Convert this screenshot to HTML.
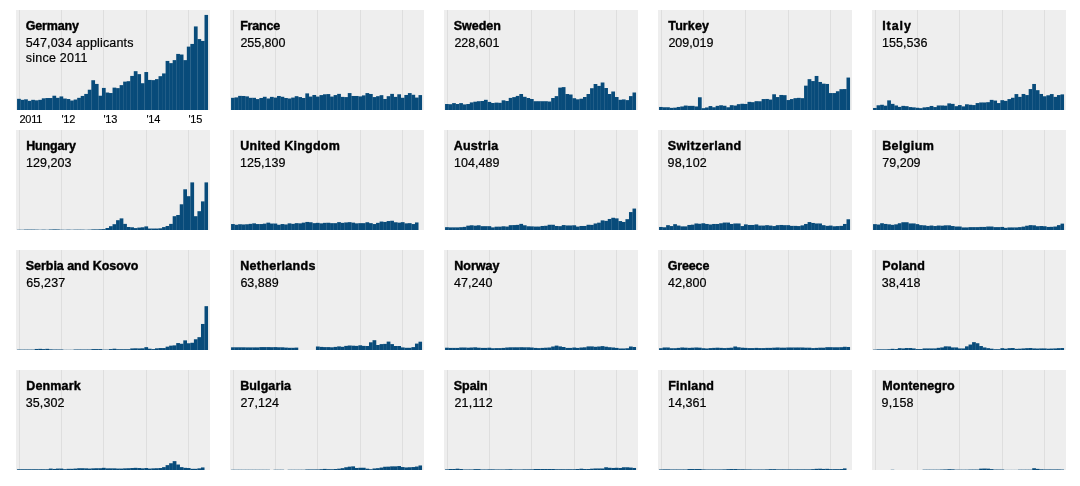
<!DOCTYPE html>
<html lang="en"><head><meta charset="utf-8"><title>Asylum applicants by country</title>
<style>
html,body{margin:0;padding:0;background:#fff}
body{width:1080px;height:486px;overflow:hidden;font-family:"Liberation Sans",Arial,Helvetica,sans-serif}
svg{display:block}
.bg{fill:#eee}
.g{fill:#dedede;shape-rendering:crispEdges}
.b rect{fill:#084b7a}
text{font-family:"Liberation Sans",Arial,Helvetica,sans-serif;fill:#000}
.t{font-size:12.5px;font-weight:bold;stroke:#000;stroke-width:.4px}
.n{font-size:12.5px;stroke:#000;stroke-width:.2px}
.a{font-size:11px;letter-spacing:-0.25px;stroke:#000;stroke-width:.15px}
</style></head><body>
<svg width="1080" height="486" viewBox="0 0 1080 486">

<g transform="translate(16,10)">
<rect class="bg" width="194" height="100"/>
<rect class="g" x="3" y="0" width="1" height="100"/>
<rect class="g" x="45" y="0" width="1" height="100"/>
<rect class="g" x="87" y="0" width="1" height="100"/>
<rect class="g" x="130" y="0" width="1" height="100"/>
<rect class="g" x="172" y="0" width="1" height="100"/>
<g class="b">
<rect x="1.050" y="88.83" width="3.737" height="11.17"/>
<rect x="4.587" y="89.83" width="3.737" height="10.17"/>
<rect x="8.124" y="89.33" width="3.737" height="10.67"/>
<rect x="11.661" y="90.83" width="3.737" height="9.17"/>
<rect x="15.198" y="89.83" width="3.737" height="10.17"/>
<rect x="18.735" y="90.33" width="3.737" height="9.67"/>
<rect x="22.272" y="89.83" width="3.737" height="10.17"/>
<rect x="25.809" y="88.33" width="3.737" height="11.67"/>
<rect x="29.346" y="88.03" width="3.737" height="11.97"/>
<rect x="32.883" y="88.03" width="3.737" height="11.97"/>
<rect x="36.420" y="85.73" width="3.737" height="14.27"/>
<rect x="39.957" y="87.83" width="3.737" height="12.17"/>
<rect x="43.494" y="86.43" width="3.737" height="13.57"/>
<rect x="47.031" y="88.53" width="3.737" height="11.47"/>
<rect x="50.569" y="89.03" width="3.737" height="10.97"/>
<rect x="54.106" y="90.53" width="3.737" height="9.47"/>
<rect x="57.643" y="89.53" width="3.737" height="10.47"/>
<rect x="61.180" y="87.83" width="3.737" height="12.17"/>
<rect x="64.717" y="85.93" width="3.737" height="14.07"/>
<rect x="68.254" y="83.93" width="3.737" height="16.07"/>
<rect x="71.791" y="79.73" width="3.737" height="20.27"/>
<rect x="75.328" y="70.23" width="3.737" height="29.77"/>
<rect x="78.865" y="73.93" width="3.737" height="26.07"/>
<rect x="82.402" y="85.73" width="3.737" height="14.27"/>
<rect x="85.939" y="77.93" width="3.737" height="22.07"/>
<rect x="89.476" y="82.53" width="3.737" height="17.47"/>
<rect x="93.013" y="83.03" width="3.737" height="16.97"/>
<rect x="96.550" y="77.63" width="3.737" height="22.37"/>
<rect x="100.087" y="78.13" width="3.737" height="21.87"/>
<rect x="103.624" y="75.13" width="3.737" height="24.87"/>
<rect x="107.161" y="71.63" width="3.737" height="28.37"/>
<rect x="110.698" y="71.18" width="3.737" height="28.82"/>
<rect x="114.235" y="65.93" width="3.737" height="34.07"/>
<rect x="117.772" y="61.18" width="3.737" height="38.82"/>
<rect x="121.309" y="64.13" width="3.737" height="35.87"/>
<rect x="124.846" y="73.23" width="3.737" height="26.77"/>
<rect x="128.383" y="62.03" width="3.737" height="37.97"/>
<rect x="131.920" y="69.93" width="3.737" height="30.07"/>
<rect x="135.457" y="70.13" width="3.737" height="29.87"/>
<rect x="138.994" y="69.13" width="3.737" height="30.87"/>
<rect x="142.531" y="66.18" width="3.737" height="33.82"/>
<rect x="146.069" y="63.43" width="3.737" height="36.57"/>
<rect x="149.606" y="50.93" width="3.737" height="49.07"/>
<rect x="153.143" y="53.13" width="3.737" height="46.87"/>
<rect x="156.680" y="50.13" width="3.737" height="49.87"/>
<rect x="160.217" y="43.93" width="3.737" height="56.07"/>
<rect x="163.754" y="44.53" width="3.737" height="55.47"/>
<rect x="167.291" y="50.13" width="3.737" height="49.87"/>
<rect x="170.828" y="36.63" width="3.737" height="63.37"/>
<rect x="174.365" y="33.93" width="3.737" height="66.07"/>
<rect x="177.902" y="16.43" width="3.737" height="83.57"/>
<rect x="181.439" y="29.08" width="3.737" height="70.92"/>
<rect x="184.976" y="30.93" width="3.737" height="69.07"/>
<rect x="188.513" y="4.93" width="3.537" height="95.07"/>
</g>
<text class="t" x="9.65" y="19.6" letter-spacing="-0.138">Germany</text>
<text class="n" x="9.65" y="36.7" letter-spacing="0.171">547,034 applicants</text>
<text class="n" x="9.78" y="51.6" letter-spacing="0.233">since 2011</text>
<text class="a" x="3.5" y="112.9">2011</text>
<text class="a" x="45.5" y="112.9">'12</text>
<text class="a" x="87.5" y="112.9">'13</text>
<text class="a" x="130.5" y="112.9">'14</text>
<text class="a" x="172.5" y="112.9">'15</text>
</g>
<g transform="translate(230,10)">
<rect class="bg" width="194" height="100"/>
<rect class="g" x="3" y="0" width="1" height="100"/>
<rect class="g" x="45" y="0" width="1" height="100"/>
<rect class="g" x="87" y="0" width="1" height="100"/>
<rect class="g" x="130" y="0" width="1" height="100"/>
<rect class="g" x="172" y="0" width="1" height="100"/>
<g class="b">
<rect x="1.050" y="87.82" width="3.737" height="12.18"/>
<rect x="4.587" y="87.38" width="3.737" height="12.62"/>
<rect x="8.124" y="85.88" width="3.737" height="14.12"/>
<rect x="11.661" y="85.98" width="3.737" height="14.02"/>
<rect x="15.198" y="86.38" width="3.737" height="13.62"/>
<rect x="18.735" y="87.82" width="3.737" height="12.18"/>
<rect x="22.272" y="87.82" width="3.737" height="12.18"/>
<rect x="25.809" y="89.08" width="3.737" height="10.92"/>
<rect x="29.346" y="87.98" width="3.737" height="12.02"/>
<rect x="32.883" y="86.78" width="3.737" height="13.22"/>
<rect x="36.420" y="88.48" width="3.737" height="11.52"/>
<rect x="39.957" y="86.88" width="3.737" height="13.12"/>
<rect x="43.494" y="87.58" width="3.737" height="12.42"/>
<rect x="47.031" y="85.98" width="3.737" height="14.02"/>
<rect x="50.569" y="86.78" width="3.737" height="13.22"/>
<rect x="54.106" y="87.98" width="3.737" height="12.02"/>
<rect x="57.643" y="88.48" width="3.737" height="11.52"/>
<rect x="61.180" y="87.58" width="3.737" height="12.42"/>
<rect x="64.717" y="86.18" width="3.737" height="13.82"/>
<rect x="68.254" y="87.08" width="3.737" height="12.92"/>
<rect x="71.791" y="87.98" width="3.737" height="12.02"/>
<rect x="75.328" y="83.38" width="3.737" height="16.62"/>
<rect x="78.865" y="86.58" width="3.737" height="13.42"/>
<rect x="82.402" y="84.98" width="3.737" height="15.02"/>
<rect x="85.939" y="86.58" width="3.737" height="13.42"/>
<rect x="89.476" y="85.08" width="3.737" height="14.92"/>
<rect x="93.013" y="84.28" width="3.737" height="15.72"/>
<rect x="96.550" y="84.08" width="3.737" height="15.92"/>
<rect x="100.087" y="86.58" width="3.737" height="13.42"/>
<rect x="103.624" y="85.08" width="3.737" height="14.92"/>
<rect x="107.161" y="83.88" width="3.737" height="16.12"/>
<rect x="110.698" y="86.88" width="3.737" height="13.12"/>
<rect x="114.235" y="87.08" width="3.737" height="12.92"/>
<rect x="117.772" y="83.08" width="3.737" height="16.92"/>
<rect x="121.309" y="85.98" width="3.737" height="14.02"/>
<rect x="124.846" y="85.98" width="3.737" height="14.02"/>
<rect x="128.383" y="86.38" width="3.737" height="13.62"/>
<rect x="131.920" y="85.38" width="3.737" height="14.62"/>
<rect x="135.457" y="83.08" width="3.737" height="16.92"/>
<rect x="138.994" y="83.98" width="3.737" height="16.02"/>
<rect x="142.531" y="87.08" width="3.737" height="12.92"/>
<rect x="146.069" y="86.18" width="3.737" height="13.82"/>
<rect x="149.606" y="85.18" width="3.737" height="14.82"/>
<rect x="153.143" y="88.98" width="3.737" height="11.02"/>
<rect x="156.680" y="86.18" width="3.737" height="13.82"/>
<rect x="160.217" y="83.88" width="3.737" height="16.12"/>
<rect x="163.754" y="86.88" width="3.737" height="13.12"/>
<rect x="167.291" y="84.28" width="3.737" height="15.72"/>
<rect x="170.828" y="87.78" width="3.737" height="12.22"/>
<rect x="174.365" y="84.98" width="3.737" height="15.02"/>
<rect x="177.902" y="83.08" width="3.737" height="16.92"/>
<rect x="181.439" y="84.78" width="3.737" height="15.22"/>
<rect x="184.976" y="87.58" width="3.737" height="12.42"/>
<rect x="188.513" y="85.08" width="3.537" height="14.92"/>
</g>
<text class="t" x="10.18" y="19.6" letter-spacing="-0.205">France</text>
<text class="n" x="10.42" y="36.7" letter-spacing="-0.033">255,800</text>
</g>
<g transform="translate(444,10)">
<rect class="bg" width="194" height="100"/>
<rect class="g" x="3" y="0" width="1" height="100"/>
<rect class="g" x="45" y="0" width="1" height="100"/>
<rect class="g" x="87" y="0" width="1" height="100"/>
<rect class="g" x="130" y="0" width="1" height="100"/>
<rect class="g" x="172" y="0" width="1" height="100"/>
<g class="b">
<rect x="1.050" y="94.01" width="3.737" height="5.99"/>
<rect x="4.587" y="94.21" width="3.737" height="5.79"/>
<rect x="8.124" y="93.11" width="3.737" height="6.89"/>
<rect x="11.661" y="94.01" width="3.737" height="5.99"/>
<rect x="15.198" y="93.11" width="3.737" height="6.89"/>
<rect x="18.735" y="94.41" width="3.737" height="5.59"/>
<rect x="22.272" y="94.01" width="3.737" height="5.99"/>
<rect x="25.809" y="92.41" width="3.737" height="7.59"/>
<rect x="29.346" y="91.71" width="3.737" height="8.29"/>
<rect x="32.883" y="91.21" width="3.737" height="8.79"/>
<rect x="36.420" y="91.01" width="3.737" height="8.99"/>
<rect x="39.957" y="89.81" width="3.737" height="10.19"/>
<rect x="43.494" y="91.91" width="3.737" height="8.09"/>
<rect x="47.031" y="93.01" width="3.737" height="6.99"/>
<rect x="50.569" y="92.61" width="3.737" height="7.39"/>
<rect x="54.106" y="92.81" width="3.737" height="7.19"/>
<rect x="57.643" y="90.31" width="3.737" height="9.69"/>
<rect x="61.180" y="91.01" width="3.737" height="8.99"/>
<rect x="64.717" y="87.91" width="3.737" height="12.09"/>
<rect x="68.254" y="87.11" width="3.737" height="12.89"/>
<rect x="71.791" y="85.91" width="3.737" height="14.09"/>
<rect x="75.328" y="84.01" width="3.737" height="15.99"/>
<rect x="78.865" y="86.81" width="3.737" height="13.19"/>
<rect x="82.402" y="88.01" width="3.737" height="11.99"/>
<rect x="85.939" y="89.01" width="3.737" height="10.99"/>
<rect x="89.476" y="91.21" width="3.737" height="8.79"/>
<rect x="93.013" y="91.21" width="3.737" height="8.79"/>
<rect x="96.550" y="91.21" width="3.737" height="8.79"/>
<rect x="100.087" y="91.21" width="3.737" height="8.79"/>
<rect x="103.624" y="91.51" width="3.737" height="8.49"/>
<rect x="107.161" y="88.01" width="3.737" height="11.99"/>
<rect x="110.698" y="86.11" width="3.737" height="13.89"/>
<rect x="114.235" y="77.61" width="3.737" height="22.39"/>
<rect x="117.772" y="77.11" width="3.737" height="22.89"/>
<rect x="121.309" y="84.01" width="3.737" height="15.99"/>
<rect x="124.846" y="84.51" width="3.737" height="15.49"/>
<rect x="128.383" y="88.21" width="3.737" height="11.79"/>
<rect x="131.920" y="89.31" width="3.737" height="10.69"/>
<rect x="135.457" y="88.71" width="3.737" height="11.29"/>
<rect x="138.994" y="87.01" width="3.737" height="12.99"/>
<rect x="142.531" y="84.01" width="3.737" height="15.99"/>
<rect x="146.069" y="78.21" width="3.737" height="21.79"/>
<rect x="149.606" y="74.01" width="3.737" height="25.99"/>
<rect x="153.143" y="75.91" width="3.737" height="24.09"/>
<rect x="156.680" y="72.51" width="3.737" height="27.49"/>
<rect x="160.217" y="78.01" width="3.737" height="21.99"/>
<rect x="163.754" y="84.01" width="3.737" height="15.99"/>
<rect x="167.291" y="81.51" width="3.737" height="18.49"/>
<rect x="170.828" y="87.01" width="3.737" height="12.99"/>
<rect x="174.365" y="89.81" width="3.737" height="10.19"/>
<rect x="177.902" y="89.41" width="3.737" height="10.59"/>
<rect x="181.439" y="90.11" width="3.737" height="9.89"/>
<rect x="184.976" y="86.11" width="3.737" height="13.89"/>
<rect x="188.513" y="82.51" width="3.537" height="17.49"/>
</g>
<text class="t" x="9.78" y="19.6" letter-spacing="-0.025">Sweden</text>
<text class="n" x="10.42" y="36.7" letter-spacing="-0.013">228,601</text>
</g>
<g transform="translate(658,10)">
<rect class="bg" width="194" height="100"/>
<rect class="g" x="3" y="0" width="1" height="100"/>
<rect class="g" x="45" y="0" width="1" height="100"/>
<rect class="g" x="87" y="0" width="1" height="100"/>
<rect class="g" x="130" y="0" width="1" height="100"/>
<rect class="g" x="172" y="0" width="1" height="100"/>
<g class="b">
<rect x="1.050" y="96.96" width="3.737" height="3.04"/>
<rect x="4.587" y="97.26" width="3.737" height="2.74"/>
<rect x="8.124" y="97.26" width="3.737" height="2.74"/>
<rect x="11.661" y="97.86" width="3.737" height="2.14"/>
<rect x="15.198" y="97.66" width="3.737" height="2.34"/>
<rect x="18.735" y="96.96" width="3.737" height="3.04"/>
<rect x="22.272" y="96.46" width="3.737" height="3.54"/>
<rect x="25.809" y="95.56" width="3.737" height="4.44"/>
<rect x="29.346" y="95.86" width="3.737" height="4.14"/>
<rect x="32.883" y="95.86" width="3.737" height="4.14"/>
<rect x="36.420" y="96.46" width="3.737" height="3.54"/>
<rect x="39.957" y="87.26" width="3.737" height="12.74"/>
<rect x="43.494" y="98.19" width="3.737" height="1.81"/>
<rect x="47.031" y="97.46" width="3.737" height="2.54"/>
<rect x="50.569" y="96.06" width="3.737" height="3.94"/>
<rect x="54.106" y="97.26" width="3.737" height="2.74"/>
<rect x="57.643" y="95.86" width="3.737" height="4.14"/>
<rect x="61.180" y="95.26" width="3.737" height="4.74"/>
<rect x="64.717" y="95.76" width="3.737" height="4.24"/>
<rect x="68.254" y="97.26" width="3.737" height="2.74"/>
<rect x="71.791" y="95.16" width="3.737" height="4.84"/>
<rect x="75.328" y="95.56" width="3.737" height="4.44"/>
<rect x="78.865" y="94.16" width="3.737" height="5.84"/>
<rect x="82.402" y="93.76" width="3.737" height="6.24"/>
<rect x="85.939" y="93.96" width="3.737" height="6.04"/>
<rect x="89.476" y="91.86" width="3.737" height="8.14"/>
<rect x="93.013" y="92.16" width="3.737" height="7.84"/>
<rect x="96.550" y="91.16" width="3.737" height="8.84"/>
<rect x="100.087" y="91.26" width="3.737" height="8.74"/>
<rect x="103.624" y="89.06" width="3.737" height="10.94"/>
<rect x="107.161" y="88.96" width="3.737" height="11.04"/>
<rect x="110.698" y="89.56" width="3.737" height="10.44"/>
<rect x="114.235" y="84.26" width="3.737" height="15.74"/>
<rect x="117.772" y="87.06" width="3.737" height="12.94"/>
<rect x="121.309" y="84.96" width="3.737" height="15.04"/>
<rect x="124.846" y="85.16" width="3.737" height="14.84"/>
<rect x="128.383" y="90.06" width="3.737" height="9.94"/>
<rect x="131.920" y="89.06" width="3.737" height="10.94"/>
<rect x="135.457" y="88.16" width="3.737" height="11.84"/>
<rect x="138.994" y="87.86" width="3.737" height="12.14"/>
<rect x="142.531" y="88.16" width="3.737" height="11.84"/>
<rect x="146.069" y="75.66" width="3.737" height="24.34"/>
<rect x="149.606" y="69.16" width="3.737" height="30.84"/>
<rect x="153.143" y="71.06" width="3.737" height="28.94"/>
<rect x="156.680" y="65.96" width="3.737" height="34.04"/>
<rect x="160.217" y="71.96" width="3.737" height="28.04"/>
<rect x="163.754" y="73.66" width="3.737" height="26.34"/>
<rect x="167.291" y="73.96" width="3.737" height="26.04"/>
<rect x="170.828" y="83.06" width="3.737" height="16.94"/>
<rect x="174.365" y="83.06" width="3.737" height="16.94"/>
<rect x="177.902" y="81.26" width="3.737" height="18.74"/>
<rect x="181.439" y="79.16" width="3.737" height="20.84"/>
<rect x="184.976" y="79.06" width="3.737" height="20.94"/>
<rect x="188.513" y="67.56" width="3.537" height="32.44"/>
</g>
<text class="t" x="10.32" y="19.6" letter-spacing="0.105">Turkey</text>
<text class="n" x="10.42" y="36.7" letter-spacing="-0.033">209,019</text>
</g>
<g transform="translate(872,10)">
<rect class="bg" width="194" height="100"/>
<rect class="g" x="3" y="0" width="1" height="100"/>
<rect class="g" x="45" y="0" width="1" height="100"/>
<rect class="g" x="87" y="0" width="1" height="100"/>
<rect class="g" x="130" y="0" width="1" height="100"/>
<rect class="g" x="172" y="0" width="1" height="100"/>
<g class="b">
<rect x="1.050" y="97.97" width="3.737" height="2.03"/>
<rect x="4.587" y="95.27" width="3.737" height="4.73"/>
<rect x="8.124" y="94.77" width="3.737" height="5.23"/>
<rect x="11.661" y="95.67" width="3.737" height="4.33"/>
<rect x="15.198" y="90.37" width="3.737" height="9.63"/>
<rect x="18.735" y="93.87" width="3.737" height="6.13"/>
<rect x="22.272" y="95.47" width="3.737" height="4.53"/>
<rect x="25.809" y="96.87" width="3.737" height="3.13"/>
<rect x="29.346" y="95.87" width="3.737" height="4.13"/>
<rect x="32.883" y="96.17" width="3.737" height="3.83"/>
<rect x="36.420" y="97.07" width="3.737" height="2.93"/>
<rect x="39.957" y="97.37" width="3.737" height="2.63"/>
<rect x="43.494" y="97.77" width="3.737" height="2.23"/>
<rect x="47.031" y="98.17" width="3.737" height="1.83"/>
<rect x="50.569" y="97.37" width="3.737" height="2.63"/>
<rect x="54.106" y="97.07" width="3.737" height="2.93"/>
<rect x="57.643" y="95.97" width="3.737" height="4.03"/>
<rect x="61.180" y="97.07" width="3.737" height="2.93"/>
<rect x="64.717" y="95.47" width="3.737" height="4.53"/>
<rect x="68.254" y="95.47" width="3.737" height="4.53"/>
<rect x="71.791" y="95.67" width="3.737" height="4.33"/>
<rect x="75.328" y="93.37" width="3.737" height="6.63"/>
<rect x="78.865" y="93.87" width="3.737" height="6.13"/>
<rect x="82.402" y="96.17" width="3.737" height="3.83"/>
<rect x="85.939" y="95.07" width="3.737" height="4.93"/>
<rect x="89.476" y="96.37" width="3.737" height="3.63"/>
<rect x="93.013" y="94.27" width="3.737" height="5.73"/>
<rect x="96.550" y="94.77" width="3.737" height="5.23"/>
<rect x="100.087" y="95.07" width="3.737" height="4.93"/>
<rect x="103.624" y="93.07" width="3.737" height="6.93"/>
<rect x="107.161" y="92.47" width="3.737" height="7.53"/>
<rect x="110.698" y="92.47" width="3.737" height="7.53"/>
<rect x="114.235" y="92.17" width="3.737" height="7.83"/>
<rect x="117.772" y="89.87" width="3.737" height="10.13"/>
<rect x="121.309" y="90.57" width="3.737" height="9.43"/>
<rect x="124.846" y="93.07" width="3.737" height="6.93"/>
<rect x="128.383" y="90.17" width="3.737" height="9.83"/>
<rect x="131.920" y="90.87" width="3.737" height="9.13"/>
<rect x="135.457" y="89.07" width="3.737" height="10.93"/>
<rect x="138.994" y="87.77" width="3.737" height="12.23"/>
<rect x="142.531" y="84.07" width="3.737" height="15.93"/>
<rect x="146.069" y="86.87" width="3.737" height="13.13"/>
<rect x="149.606" y="83.97" width="3.737" height="16.03"/>
<rect x="153.143" y="85.07" width="3.737" height="14.93"/>
<rect x="156.680" y="79.07" width="3.737" height="20.93"/>
<rect x="160.217" y="73.97" width="3.737" height="26.03"/>
<rect x="163.754" y="80.17" width="3.737" height="19.83"/>
<rect x="167.291" y="83.97" width="3.737" height="16.03"/>
<rect x="170.828" y="86.27" width="3.737" height="13.73"/>
<rect x="174.365" y="85.27" width="3.737" height="14.73"/>
<rect x="177.902" y="84.07" width="3.737" height="15.93"/>
<rect x="181.439" y="86.87" width="3.737" height="13.13"/>
<rect x="184.976" y="85.07" width="3.737" height="14.93"/>
<rect x="188.513" y="84.37" width="3.537" height="15.63"/>
</g>
<text class="t" x="10.18" y="19.6" letter-spacing="0.95">Italy</text>
<text class="n" x="10.05" y="36.7" letter-spacing="0.029">155,536</text>
</g>
<g transform="translate(16,130)">
<rect class="bg" width="194" height="100"/>
<rect class="g" x="3" y="0" width="1" height="100"/>
<rect class="g" x="45" y="0" width="1" height="100"/>
<rect class="g" x="87" y="0" width="1" height="100"/>
<rect class="g" x="130" y="0" width="1" height="100"/>
<rect class="g" x="172" y="0" width="1" height="100"/>
<g class="b">
<rect x="1.050" y="99.76" width="3.737" height="0.24"/>
<rect x="4.587" y="99.76" width="3.737" height="0.24"/>
<rect x="8.124" y="99.58" width="3.737" height="0.42"/>
<rect x="11.661" y="99.58" width="3.737" height="0.42"/>
<rect x="15.198" y="99.58" width="3.737" height="0.42"/>
<rect x="18.735" y="99.64" width="3.737" height="0.36"/>
<rect x="22.272" y="99.76" width="3.737" height="0.24"/>
<rect x="25.809" y="99.64" width="3.737" height="0.36"/>
<rect x="29.346" y="99.76" width="3.737" height="0.24"/>
<rect x="32.883" y="99.52" width="3.737" height="0.48"/>
<rect x="36.420" y="99.40" width="3.737" height="0.60"/>
<rect x="39.957" y="99.46" width="3.737" height="0.54"/>
<rect x="43.494" y="99.70" width="3.737" height="0.30"/>
<rect x="47.031" y="99.76" width="3.737" height="0.24"/>
<rect x="50.569" y="99.64" width="3.737" height="0.36"/>
<rect x="54.106" y="99.76" width="3.737" height="0.24"/>
<rect x="57.643" y="99.64" width="3.737" height="0.36"/>
<rect x="61.180" y="99.64" width="3.737" height="0.36"/>
<rect x="64.717" y="99.64" width="3.737" height="0.36"/>
<rect x="68.254" y="99.76" width="3.737" height="0.24"/>
<rect x="71.791" y="99.64" width="3.737" height="0.36"/>
<rect x="75.328" y="99.40" width="3.737" height="0.60"/>
<rect x="78.865" y="99.40" width="3.737" height="0.60"/>
<rect x="82.402" y="99.27" width="3.737" height="0.73"/>
<rect x="85.939" y="99.15" width="3.737" height="0.85"/>
<rect x="89.476" y="97.99" width="3.737" height="2.01"/>
<rect x="93.013" y="96.19" width="3.737" height="3.81"/>
<rect x="96.550" y="94.19" width="3.737" height="5.81"/>
<rect x="100.087" y="90.19" width="3.737" height="9.81"/>
<rect x="103.624" y="88.39" width="3.737" height="11.61"/>
<rect x="107.161" y="93.89" width="3.737" height="6.11"/>
<rect x="110.698" y="96.99" width="3.737" height="3.01"/>
<rect x="114.235" y="97.29" width="3.737" height="2.71"/>
<rect x="117.772" y="98.09" width="3.737" height="1.91"/>
<rect x="121.309" y="97.59" width="3.737" height="2.41"/>
<rect x="124.846" y="97.29" width="3.737" height="2.71"/>
<rect x="128.383" y="96.39" width="3.737" height="3.61"/>
<rect x="131.920" y="98.55" width="3.737" height="1.45"/>
<rect x="135.457" y="98.55" width="3.737" height="1.45"/>
<rect x="138.994" y="98.55" width="3.737" height="1.45"/>
<rect x="142.531" y="98.31" width="3.737" height="1.69"/>
<rect x="146.069" y="97.09" width="3.737" height="2.91"/>
<rect x="149.606" y="95.99" width="3.737" height="4.01"/>
<rect x="153.143" y="93.89" width="3.737" height="6.11"/>
<rect x="156.680" y="86.19" width="3.737" height="13.81"/>
<rect x="160.217" y="84.99" width="3.737" height="15.01"/>
<rect x="163.754" y="74.29" width="3.737" height="25.71"/>
<rect x="167.291" y="59.29" width="3.737" height="40.71"/>
<rect x="170.828" y="66.19" width="3.737" height="33.81"/>
<rect x="174.365" y="52.39" width="3.737" height="47.61"/>
<rect x="177.902" y="86.19" width="3.737" height="13.81"/>
<rect x="181.439" y="81.19" width="3.737" height="18.81"/>
<rect x="184.976" y="71.39" width="3.737" height="28.61"/>
<rect x="188.513" y="52.39" width="3.537" height="47.61"/>
</g>
<text class="t" x="10.18" y="19.6" letter-spacing="-0.158">Hungary</text>
<text class="n" x="10.05" y="36.7" letter-spacing="0.029">129,203</text>
</g>
<g transform="translate(230,130)">
<rect class="bg" width="194" height="100"/>
<rect class="g" x="3" y="0" width="1" height="100"/>
<rect class="g" x="45" y="0" width="1" height="100"/>
<rect class="g" x="87" y="0" width="1" height="100"/>
<rect class="g" x="130" y="0" width="1" height="100"/>
<rect class="g" x="172" y="0" width="1" height="100"/>
<g class="b">
<rect x="1.050" y="94.05" width="3.737" height="5.95"/>
<rect x="4.587" y="94.75" width="3.737" height="5.25"/>
<rect x="8.124" y="94.25" width="3.737" height="5.75"/>
<rect x="11.661" y="94.45" width="3.737" height="5.55"/>
<rect x="15.198" y="94.25" width="3.737" height="5.75"/>
<rect x="18.735" y="93.85" width="3.737" height="6.15"/>
<rect x="22.272" y="93.35" width="3.737" height="6.65"/>
<rect x="25.809" y="94.05" width="3.737" height="5.95"/>
<rect x="29.346" y="94.05" width="3.737" height="5.95"/>
<rect x="32.883" y="93.65" width="3.737" height="6.35"/>
<rect x="36.420" y="92.65" width="3.737" height="7.35"/>
<rect x="39.957" y="93.55" width="3.737" height="6.45"/>
<rect x="43.494" y="93.55" width="3.737" height="6.45"/>
<rect x="47.031" y="94.75" width="3.737" height="5.25"/>
<rect x="50.569" y="94.05" width="3.737" height="5.95"/>
<rect x="54.106" y="94.45" width="3.737" height="5.55"/>
<rect x="57.643" y="93.35" width="3.737" height="6.65"/>
<rect x="61.180" y="93.85" width="3.737" height="6.15"/>
<rect x="64.717" y="93.15" width="3.737" height="6.85"/>
<rect x="68.254" y="93.35" width="3.737" height="6.65"/>
<rect x="71.791" y="92.65" width="3.737" height="7.35"/>
<rect x="75.328" y="91.95" width="3.737" height="8.05"/>
<rect x="78.865" y="92.25" width="3.737" height="7.75"/>
<rect x="82.402" y="93.15" width="3.737" height="6.85"/>
<rect x="85.939" y="92.85" width="3.737" height="7.15"/>
<rect x="89.476" y="93.35" width="3.737" height="6.65"/>
<rect x="93.013" y="92.85" width="3.737" height="7.15"/>
<rect x="96.550" y="92.75" width="3.737" height="7.25"/>
<rect x="100.087" y="93.15" width="3.737" height="6.85"/>
<rect x="103.624" y="93.15" width="3.737" height="6.85"/>
<rect x="107.161" y="92.15" width="3.737" height="7.85"/>
<rect x="110.698" y="92.85" width="3.737" height="7.15"/>
<rect x="114.235" y="92.45" width="3.737" height="7.55"/>
<rect x="117.772" y="92.15" width="3.737" height="7.85"/>
<rect x="121.309" y="92.65" width="3.737" height="7.35"/>
<rect x="124.846" y="93.35" width="3.737" height="6.65"/>
<rect x="128.383" y="93.15" width="3.737" height="6.85"/>
<rect x="131.920" y="93.15" width="3.737" height="6.85"/>
<rect x="135.457" y="92.25" width="3.737" height="7.75"/>
<rect x="138.994" y="93.15" width="3.737" height="6.85"/>
<rect x="142.531" y="94.05" width="3.737" height="5.95"/>
<rect x="146.069" y="92.85" width="3.737" height="7.15"/>
<rect x="149.606" y="91.55" width="3.737" height="8.45"/>
<rect x="153.143" y="91.95" width="3.737" height="8.05"/>
<rect x="156.680" y="91.05" width="3.737" height="8.95"/>
<rect x="160.217" y="90.75" width="3.737" height="9.25"/>
<rect x="163.754" y="92.25" width="3.737" height="7.75"/>
<rect x="167.291" y="92.65" width="3.737" height="7.35"/>
<rect x="170.828" y="92.15" width="3.737" height="7.85"/>
<rect x="174.365" y="93.35" width="3.737" height="6.65"/>
<rect x="177.902" y="93.15" width="3.737" height="6.85"/>
<rect x="181.439" y="94.05" width="3.737" height="5.95"/>
<rect x="184.976" y="92.45" width="3.537" height="7.55"/>
</g>
<text class="t" x="10.3" y="19.6" letter-spacing="0.231">United Kingdom</text>
<text class="n" x="10.05" y="36.7" letter-spacing="0.029">125,139</text>
</g>
<g transform="translate(444,130)">
<rect class="bg" width="194" height="100"/>
<rect class="g" x="3" y="0" width="1" height="100"/>
<rect class="g" x="45" y="0" width="1" height="100"/>
<rect class="g" x="87" y="0" width="1" height="100"/>
<rect class="g" x="130" y="0" width="1" height="100"/>
<rect class="g" x="172" y="0" width="1" height="100"/>
<g class="b">
<rect x="1.050" y="97.17" width="3.737" height="2.83"/>
<rect x="4.587" y="97.37" width="3.737" height="2.63"/>
<rect x="8.124" y="97.37" width="3.737" height="2.63"/>
<rect x="11.661" y="97.37" width="3.737" height="2.63"/>
<rect x="15.198" y="97.17" width="3.737" height="2.83"/>
<rect x="18.735" y="96.87" width="3.737" height="3.13"/>
<rect x="22.272" y="95.67" width="3.737" height="4.33"/>
<rect x="25.809" y="95.27" width="3.737" height="4.73"/>
<rect x="29.346" y="95.67" width="3.737" height="4.33"/>
<rect x="32.883" y="95.27" width="3.737" height="4.73"/>
<rect x="36.420" y="96.17" width="3.737" height="3.83"/>
<rect x="39.957" y="96.17" width="3.737" height="3.83"/>
<rect x="43.494" y="96.17" width="3.737" height="3.83"/>
<rect x="47.031" y="97.37" width="3.737" height="2.63"/>
<rect x="50.569" y="96.67" width="3.737" height="3.33"/>
<rect x="54.106" y="96.67" width="3.737" height="3.33"/>
<rect x="57.643" y="96.27" width="3.737" height="3.73"/>
<rect x="61.180" y="96.57" width="3.737" height="3.43"/>
<rect x="64.717" y="95.17" width="3.737" height="4.83"/>
<rect x="68.254" y="95.07" width="3.737" height="4.93"/>
<rect x="71.791" y="94.87" width="3.737" height="5.13"/>
<rect x="75.328" y="93.87" width="3.737" height="6.13"/>
<rect x="78.865" y="95.27" width="3.737" height="4.73"/>
<rect x="82.402" y="96.27" width="3.737" height="3.73"/>
<rect x="85.939" y="96.37" width="3.737" height="3.63"/>
<rect x="89.476" y="96.57" width="3.737" height="3.43"/>
<rect x="93.013" y="96.57" width="3.737" height="3.43"/>
<rect x="96.550" y="95.97" width="3.737" height="4.03"/>
<rect x="100.087" y="95.77" width="3.737" height="4.23"/>
<rect x="103.624" y="94.77" width="3.737" height="5.23"/>
<rect x="107.161" y="94.77" width="3.737" height="5.23"/>
<rect x="110.698" y="95.97" width="3.737" height="4.03"/>
<rect x="114.235" y="96.17" width="3.737" height="3.83"/>
<rect x="117.772" y="95.07" width="3.737" height="4.93"/>
<rect x="121.309" y="95.47" width="3.737" height="4.53"/>
<rect x="124.846" y="95.47" width="3.737" height="4.53"/>
<rect x="128.383" y="95.27" width="3.737" height="4.73"/>
<rect x="131.920" y="96.57" width="3.737" height="3.43"/>
<rect x="135.457" y="95.97" width="3.737" height="4.03"/>
<rect x="138.994" y="95.97" width="3.737" height="4.03"/>
<rect x="142.531" y="94.77" width="3.737" height="5.23"/>
<rect x="146.069" y="94.87" width="3.737" height="5.13"/>
<rect x="149.606" y="93.47" width="3.737" height="6.53"/>
<rect x="153.143" y="92.67" width="3.737" height="7.33"/>
<rect x="156.680" y="90.37" width="3.737" height="9.63"/>
<rect x="160.217" y="90.87" width="3.737" height="9.13"/>
<rect x="163.754" y="88.97" width="3.737" height="11.03"/>
<rect x="167.291" y="87.77" width="3.737" height="12.23"/>
<rect x="170.828" y="88.37" width="3.737" height="11.63"/>
<rect x="174.365" y="91.07" width="3.737" height="8.93"/>
<rect x="177.902" y="91.97" width="3.737" height="8.03"/>
<rect x="181.439" y="89.17" width="3.737" height="10.83"/>
<rect x="184.976" y="82.07" width="3.737" height="17.93"/>
<rect x="188.513" y="78.57" width="3.537" height="21.43"/>
</g>
<text class="t" x="9.78" y="19.6" letter-spacing="0.208">Austria</text>
<text class="n" x="10.05" y="36.7" letter-spacing="0.029">104,489</text>
</g>
<g transform="translate(658,130)">
<rect class="bg" width="194" height="100"/>
<rect class="g" x="3" y="0" width="1" height="100"/>
<rect class="g" x="45" y="0" width="1" height="100"/>
<rect class="g" x="87" y="0" width="1" height="100"/>
<rect class="g" x="130" y="0" width="1" height="100"/>
<rect class="g" x="172" y="0" width="1" height="100"/>
<g class="b">
<rect x="1.050" y="96.97" width="3.737" height="3.03"/>
<rect x="4.587" y="97.27" width="3.737" height="2.73"/>
<rect x="8.124" y="95.17" width="3.737" height="4.83"/>
<rect x="11.661" y="96.07" width="3.737" height="3.93"/>
<rect x="15.198" y="94.17" width="3.737" height="5.83"/>
<rect x="18.735" y="95.57" width="3.737" height="4.43"/>
<rect x="22.272" y="96.37" width="3.737" height="3.63"/>
<rect x="25.809" y="96.37" width="3.737" height="3.63"/>
<rect x="29.346" y="94.97" width="3.737" height="5.03"/>
<rect x="32.883" y="94.67" width="3.737" height="5.33"/>
<rect x="36.420" y="93.47" width="3.737" height="6.53"/>
<rect x="39.957" y="93.77" width="3.737" height="6.23"/>
<rect x="43.494" y="93.27" width="3.737" height="6.73"/>
<rect x="47.031" y="93.97" width="3.737" height="6.03"/>
<rect x="50.569" y="94.47" width="3.737" height="5.53"/>
<rect x="54.106" y="93.97" width="3.737" height="6.03"/>
<rect x="57.643" y="93.97" width="3.737" height="6.03"/>
<rect x="61.180" y="93.27" width="3.737" height="6.73"/>
<rect x="64.717" y="92.57" width="3.737" height="7.43"/>
<rect x="68.254" y="92.57" width="3.737" height="7.43"/>
<rect x="71.791" y="93.97" width="3.737" height="6.03"/>
<rect x="75.328" y="93.47" width="3.737" height="6.53"/>
<rect x="78.865" y="93.47" width="3.737" height="6.53"/>
<rect x="82.402" y="96.07" width="3.737" height="3.93"/>
<rect x="85.939" y="94.37" width="3.737" height="5.63"/>
<rect x="89.476" y="94.97" width="3.737" height="5.03"/>
<rect x="93.013" y="94.97" width="3.737" height="5.03"/>
<rect x="96.550" y="94.42" width="3.737" height="5.58"/>
<rect x="100.087" y="95.57" width="3.737" height="4.43"/>
<rect x="103.624" y="95.57" width="3.737" height="4.43"/>
<rect x="107.161" y="95.17" width="3.737" height="4.83"/>
<rect x="110.698" y="95.57" width="3.737" height="4.43"/>
<rect x="114.235" y="96.07" width="3.737" height="3.93"/>
<rect x="117.772" y="95.17" width="3.737" height="4.83"/>
<rect x="121.309" y="94.97" width="3.737" height="5.03"/>
<rect x="124.846" y="95.17" width="3.737" height="4.83"/>
<rect x="128.383" y="95.17" width="3.737" height="4.83"/>
<rect x="131.920" y="95.87" width="3.737" height="4.13"/>
<rect x="135.457" y="95.87" width="3.737" height="4.13"/>
<rect x="138.994" y="96.07" width="3.737" height="3.93"/>
<rect x="142.531" y="95.37" width="3.737" height="4.63"/>
<rect x="146.069" y="93.97" width="3.737" height="6.03"/>
<rect x="149.606" y="92.07" width="3.737" height="7.93"/>
<rect x="153.143" y="92.97" width="3.737" height="7.03"/>
<rect x="156.680" y="93.47" width="3.737" height="6.53"/>
<rect x="160.217" y="93.47" width="3.737" height="6.53"/>
<rect x="163.754" y="95.17" width="3.737" height="4.83"/>
<rect x="167.291" y="95.87" width="3.737" height="4.13"/>
<rect x="170.828" y="95.57" width="3.737" height="4.43"/>
<rect x="174.365" y="96.27" width="3.737" height="3.73"/>
<rect x="177.902" y="96.07" width="3.737" height="3.93"/>
<rect x="181.439" y="95.87" width="3.737" height="4.13"/>
<rect x="184.976" y="93.97" width="3.737" height="6.03"/>
<rect x="188.513" y="89.27" width="3.537" height="10.73"/>
</g>
<text class="t" x="9.78" y="19.6" letter-spacing="0.385">Switzerland</text>
<text class="n" x="9.52" y="36.7" letter-spacing="0.2">98,102</text>
</g>
<g transform="translate(872,130)">
<rect class="bg" width="194" height="100"/>
<rect class="g" x="3" y="0" width="1" height="100"/>
<rect class="g" x="45" y="0" width="1" height="100"/>
<rect class="g" x="87" y="0" width="1" height="100"/>
<rect class="g" x="130" y="0" width="1" height="100"/>
<rect class="g" x="172" y="0" width="1" height="100"/>
<g class="b">
<rect x="1.050" y="94.13" width="3.737" height="5.87"/>
<rect x="4.587" y="94.53" width="3.737" height="5.47"/>
<rect x="8.124" y="93.23" width="3.737" height="6.77"/>
<rect x="11.661" y="93.93" width="3.737" height="6.07"/>
<rect x="15.198" y="94.33" width="3.737" height="5.67"/>
<rect x="18.735" y="94.83" width="3.737" height="5.17"/>
<rect x="22.272" y="94.33" width="3.737" height="5.67"/>
<rect x="25.809" y="93.23" width="3.737" height="6.77"/>
<rect x="29.346" y="92.23" width="3.737" height="7.77"/>
<rect x="32.883" y="92.23" width="3.737" height="7.77"/>
<rect x="36.420" y="93.43" width="3.737" height="6.57"/>
<rect x="39.957" y="93.43" width="3.737" height="6.57"/>
<rect x="43.494" y="94.13" width="3.737" height="5.87"/>
<rect x="47.031" y="95.13" width="3.737" height="4.87"/>
<rect x="50.569" y="95.33" width="3.737" height="4.67"/>
<rect x="54.106" y="95.93" width="3.737" height="4.07"/>
<rect x="57.643" y="95.53" width="3.737" height="4.47"/>
<rect x="61.180" y="96.03" width="3.737" height="3.97"/>
<rect x="64.717" y="95.53" width="3.737" height="4.47"/>
<rect x="68.254" y="95.73" width="3.737" height="4.27"/>
<rect x="71.791" y="95.33" width="3.737" height="4.67"/>
<rect x="75.328" y="95.33" width="3.737" height="4.67"/>
<rect x="78.865" y="96.03" width="3.737" height="3.97"/>
<rect x="82.402" y="96.53" width="3.737" height="3.47"/>
<rect x="85.939" y="96.53" width="3.737" height="3.47"/>
<rect x="89.476" y="97.43" width="3.737" height="2.57"/>
<rect x="93.013" y="97.43" width="3.737" height="2.57"/>
<rect x="96.550" y="97.13" width="3.737" height="2.87"/>
<rect x="100.087" y="97.13" width="3.737" height="2.87"/>
<rect x="103.624" y="97.13" width="3.737" height="2.87"/>
<rect x="107.161" y="96.93" width="3.737" height="3.07"/>
<rect x="110.698" y="96.93" width="3.737" height="3.07"/>
<rect x="114.235" y="96.53" width="3.737" height="3.47"/>
<rect x="117.772" y="96.53" width="3.737" height="3.47"/>
<rect x="121.309" y="97.13" width="3.737" height="2.87"/>
<rect x="124.846" y="97.13" width="3.737" height="2.87"/>
<rect x="128.383" y="96.93" width="3.737" height="3.07"/>
<rect x="131.920" y="97.83" width="3.737" height="2.17"/>
<rect x="135.457" y="97.43" width="3.737" height="2.57"/>
<rect x="138.994" y="97.43" width="3.737" height="2.57"/>
<rect x="142.531" y="97.43" width="3.737" height="2.57"/>
<rect x="146.069" y="97.13" width="3.737" height="2.87"/>
<rect x="149.606" y="96.63" width="3.737" height="3.37"/>
<rect x="153.143" y="95.73" width="3.737" height="4.27"/>
<rect x="156.680" y="95.13" width="3.737" height="4.87"/>
<rect x="160.217" y="95.33" width="3.737" height="4.67"/>
<rect x="163.754" y="96.23" width="3.737" height="3.77"/>
<rect x="167.291" y="96.03" width="3.737" height="3.97"/>
<rect x="170.828" y="96.23" width="3.737" height="3.77"/>
<rect x="174.365" y="96.93" width="3.737" height="3.07"/>
<rect x="177.902" y="96.83" width="3.737" height="3.17"/>
<rect x="181.439" y="96.53" width="3.737" height="3.47"/>
<rect x="184.976" y="95.13" width="3.737" height="4.87"/>
<rect x="188.513" y="93.63" width="3.537" height="6.37"/>
</g>
<text class="t" x="10.18" y="19.6" letter-spacing="0.396">Belgium</text>
<text class="n" x="10.22" y="36.7" letter-spacing="0.02">79,209</text>
</g>
<g transform="translate(16,250)">
<rect class="bg" width="194" height="100"/>
<rect class="g" x="3" y="0" width="1" height="100"/>
<rect class="g" x="45" y="0" width="1" height="100"/>
<rect class="g" x="87" y="0" width="1" height="100"/>
<rect class="g" x="130" y="0" width="1" height="100"/>
<rect class="g" x="172" y="0" width="1" height="100"/>
<g class="b">
<rect x="1.050" y="99.61" width="3.737" height="0.39"/>
<rect x="4.587" y="99.61" width="3.737" height="0.39"/>
<rect x="8.124" y="99.61" width="3.737" height="0.39"/>
<rect x="11.661" y="99.61" width="3.737" height="0.39"/>
<rect x="15.198" y="99.61" width="3.737" height="0.39"/>
<rect x="18.735" y="98.97" width="3.737" height="1.03"/>
<rect x="22.272" y="98.84" width="3.737" height="1.16"/>
<rect x="25.809" y="99.09" width="3.737" height="0.91"/>
<rect x="29.346" y="98.84" width="3.737" height="1.16"/>
<rect x="32.883" y="99.35" width="3.737" height="0.65"/>
<rect x="36.420" y="99.48" width="3.737" height="0.52"/>
<rect x="39.957" y="99.48" width="3.737" height="0.52"/>
<rect x="43.494" y="99.48" width="3.737" height="0.52"/>
<rect x="47.031" y="99.81" width="3.737" height="0.19"/>
<rect x="50.569" y="99.81" width="3.737" height="0.19"/>
<rect x="54.106" y="99.81" width="3.737" height="0.19"/>
<rect x="57.643" y="99.48" width="3.737" height="0.52"/>
<rect x="61.180" y="99.48" width="3.737" height="0.52"/>
<rect x="64.717" y="99.48" width="3.737" height="0.52"/>
<rect x="68.254" y="99.48" width="3.737" height="0.52"/>
<rect x="71.791" y="99.48" width="3.737" height="0.52"/>
<rect x="75.328" y="99.09" width="3.737" height="0.91"/>
<rect x="78.865" y="99.09" width="3.737" height="0.91"/>
<rect x="82.402" y="99.09" width="3.737" height="0.91"/>
<rect x="85.939" y="99.61" width="3.737" height="0.39"/>
<rect x="89.476" y="99.61" width="3.737" height="0.39"/>
<rect x="93.013" y="99.09" width="3.737" height="0.91"/>
<rect x="96.550" y="98.71" width="3.737" height="1.29"/>
<rect x="100.087" y="99.22" width="3.737" height="0.78"/>
<rect x="103.624" y="99.22" width="3.737" height="0.78"/>
<rect x="107.161" y="99.22" width="3.737" height="0.78"/>
<rect x="110.698" y="99.22" width="3.737" height="0.78"/>
<rect x="114.235" y="98.45" width="3.737" height="1.55"/>
<rect x="117.772" y="98.32" width="3.737" height="1.68"/>
<rect x="121.309" y="98.45" width="3.737" height="1.55"/>
<rect x="124.846" y="98.32" width="3.737" height="1.68"/>
<rect x="128.383" y="97.16" width="3.737" height="2.84"/>
<rect x="131.920" y="98.71" width="3.737" height="1.29"/>
<rect x="135.457" y="99.09" width="3.737" height="0.91"/>
<rect x="138.994" y="98.32" width="3.737" height="1.68"/>
<rect x="142.531" y="98.06" width="3.737" height="1.94"/>
<rect x="146.069" y="98.06" width="3.737" height="1.94"/>
<rect x="149.606" y="96.66" width="3.737" height="3.34"/>
<rect x="153.143" y="95.66" width="3.737" height="4.34"/>
<rect x="156.680" y="95.36" width="3.737" height="4.64"/>
<rect x="160.217" y="93.06" width="3.737" height="6.94"/>
<rect x="163.754" y="93.76" width="3.737" height="6.24"/>
<rect x="167.291" y="90.36" width="3.737" height="9.64"/>
<rect x="170.828" y="93.26" width="3.737" height="6.74"/>
<rect x="174.365" y="92.76" width="3.737" height="7.24"/>
<rect x="177.902" y="89.26" width="3.737" height="10.74"/>
<rect x="181.439" y="87.16" width="3.737" height="12.84"/>
<rect x="184.976" y="73.96" width="3.737" height="26.04"/>
<rect x="188.513" y="56.16" width="3.537" height="43.84"/>
</g>
<text class="t" x="9.78" y="19.6" letter-spacing="-0.036">Serbia and Kosovo</text>
<text class="n" x="10.22" y="36.7" letter-spacing="0.16">65,237</text>
</g>
<g transform="translate(230,250)">
<rect class="bg" width="194" height="100"/>
<rect class="g" x="3" y="0" width="1" height="100"/>
<rect class="g" x="45" y="0" width="1" height="100"/>
<rect class="g" x="87" y="0" width="1" height="100"/>
<rect class="g" x="130" y="0" width="1" height="100"/>
<rect class="g" x="172" y="0" width="1" height="100"/>
<g class="b">
<rect x="1.050" y="97.30" width="3.737" height="2.70"/>
<rect x="4.587" y="97.30" width="3.737" height="2.70"/>
<rect x="8.124" y="97.30" width="3.737" height="2.70"/>
<rect x="11.661" y="97.30" width="3.737" height="2.70"/>
<rect x="15.198" y="97.40" width="3.737" height="2.60"/>
<rect x="18.735" y="97.40" width="3.737" height="2.60"/>
<rect x="22.272" y="97.40" width="3.737" height="2.60"/>
<rect x="25.809" y="97.40" width="3.737" height="2.60"/>
<rect x="29.346" y="97.10" width="3.737" height="2.90"/>
<rect x="32.883" y="97.10" width="3.737" height="2.90"/>
<rect x="36.420" y="97.10" width="3.737" height="2.90"/>
<rect x="39.957" y="97.20" width="3.737" height="2.80"/>
<rect x="43.494" y="97.10" width="3.737" height="2.90"/>
<rect x="47.031" y="97.30" width="3.737" height="2.70"/>
<rect x="50.569" y="97.30" width="3.737" height="2.70"/>
<rect x="54.106" y="97.60" width="3.737" height="2.40"/>
<rect x="57.643" y="97.80" width="3.737" height="2.20"/>
<rect x="61.180" y="97.80" width="3.737" height="2.20"/>
<rect x="64.717" y="97.60" width="3.537" height="2.40"/>
<rect x="85.939" y="96.50" width="3.737" height="3.50"/>
<rect x="89.476" y="96.90" width="3.737" height="3.10"/>
<rect x="93.013" y="97.10" width="3.737" height="2.90"/>
<rect x="96.550" y="97.10" width="3.737" height="2.90"/>
<rect x="100.087" y="97.30" width="3.737" height="2.70"/>
<rect x="103.624" y="96.90" width="3.737" height="3.10"/>
<rect x="107.161" y="96.40" width="3.737" height="3.60"/>
<rect x="110.698" y="96.80" width="3.737" height="3.20"/>
<rect x="114.235" y="95.90" width="3.737" height="4.10"/>
<rect x="117.772" y="95.50" width="3.737" height="4.50"/>
<rect x="121.309" y="95.70" width="3.737" height="4.30"/>
<rect x="124.846" y="95.90" width="3.737" height="4.10"/>
<rect x="128.383" y="95.30" width="3.737" height="4.70"/>
<rect x="131.920" y="95.90" width="3.737" height="4.10"/>
<rect x="135.457" y="96.00" width="3.737" height="4.00"/>
<rect x="138.994" y="92.30" width="3.737" height="7.70"/>
<rect x="142.531" y="90.20" width="3.737" height="9.80"/>
<rect x="146.069" y="95.00" width="3.737" height="5.00"/>
<rect x="149.606" y="94.10" width="3.737" height="5.90"/>
<rect x="153.143" y="93.90" width="3.737" height="6.10"/>
<rect x="156.680" y="91.60" width="3.737" height="8.40"/>
<rect x="160.217" y="94.10" width="3.737" height="5.90"/>
<rect x="163.754" y="96.00" width="3.737" height="4.00"/>
<rect x="167.291" y="96.00" width="3.737" height="4.00"/>
<rect x="170.828" y="97.40" width="3.737" height="2.60"/>
<rect x="174.365" y="97.80" width="3.737" height="2.20"/>
<rect x="177.902" y="97.80" width="3.737" height="2.20"/>
<rect x="181.439" y="97.10" width="3.737" height="2.90"/>
<rect x="184.976" y="93.60" width="3.737" height="6.40"/>
<rect x="188.513" y="91.70" width="3.537" height="8.30"/>
</g>
<text class="t" x="10.18" y="19.6" letter-spacing="0.303">Netherlands</text>
<text class="n" x="10.42" y="36.7" letter-spacing="0.0">63,889</text>
</g>
<g transform="translate(444,250)">
<rect class="bg" width="194" height="100"/>
<rect class="g" x="3" y="0" width="1" height="100"/>
<rect class="g" x="45" y="0" width="1" height="100"/>
<rect class="g" x="87" y="0" width="1" height="100"/>
<rect class="g" x="130" y="0" width="1" height="100"/>
<rect class="g" x="172" y="0" width="1" height="100"/>
<g class="b">
<rect x="1.050" y="97.71" width="3.737" height="2.29"/>
<rect x="4.587" y="97.91" width="3.737" height="2.09"/>
<rect x="8.124" y="97.91" width="3.737" height="2.09"/>
<rect x="11.661" y="97.91" width="3.737" height="2.09"/>
<rect x="15.198" y="97.51" width="3.737" height="2.49"/>
<rect x="18.735" y="97.51" width="3.737" height="2.49"/>
<rect x="22.272" y="97.71" width="3.737" height="2.29"/>
<rect x="25.809" y="97.51" width="3.737" height="2.49"/>
<rect x="29.346" y="97.31" width="3.737" height="2.69"/>
<rect x="32.883" y="97.71" width="3.737" height="2.29"/>
<rect x="36.420" y="97.91" width="3.737" height="2.09"/>
<rect x="39.957" y="97.91" width="3.737" height="2.09"/>
<rect x="43.494" y="97.71" width="3.737" height="2.29"/>
<rect x="47.031" y="98.24" width="3.737" height="1.76"/>
<rect x="50.569" y="98.11" width="3.737" height="1.89"/>
<rect x="54.106" y="98.11" width="3.737" height="1.89"/>
<rect x="57.643" y="97.91" width="3.737" height="2.09"/>
<rect x="61.180" y="97.51" width="3.737" height="2.49"/>
<rect x="64.717" y="97.31" width="3.737" height="2.69"/>
<rect x="68.254" y="97.31" width="3.737" height="2.69"/>
<rect x="71.791" y="97.31" width="3.737" height="2.69"/>
<rect x="75.328" y="97.21" width="3.737" height="2.79"/>
<rect x="78.865" y="97.31" width="3.737" height="2.69"/>
<rect x="82.402" y="97.31" width="3.737" height="2.69"/>
<rect x="85.939" y="97.51" width="3.737" height="2.49"/>
<rect x="89.476" y="97.91" width="3.737" height="2.09"/>
<rect x="93.013" y="98.11" width="3.737" height="1.89"/>
<rect x="96.550" y="97.91" width="3.737" height="2.09"/>
<rect x="100.087" y="97.71" width="3.737" height="2.29"/>
<rect x="103.624" y="97.51" width="3.737" height="2.49"/>
<rect x="107.161" y="96.51" width="3.737" height="3.49"/>
<rect x="110.698" y="95.61" width="3.737" height="4.39"/>
<rect x="114.235" y="96.41" width="3.737" height="3.59"/>
<rect x="117.772" y="97.01" width="3.737" height="2.99"/>
<rect x="121.309" y="97.91" width="3.737" height="2.09"/>
<rect x="124.846" y="97.91" width="3.737" height="2.09"/>
<rect x="128.383" y="97.51" width="3.737" height="2.49"/>
<rect x="131.920" y="97.91" width="3.737" height="2.09"/>
<rect x="135.457" y="97.51" width="3.737" height="2.49"/>
<rect x="138.994" y="97.31" width="3.737" height="2.69"/>
<rect x="142.531" y="96.41" width="3.737" height="3.59"/>
<rect x="146.069" y="96.41" width="3.737" height="3.59"/>
<rect x="149.606" y="96.81" width="3.737" height="3.19"/>
<rect x="153.143" y="96.51" width="3.737" height="3.49"/>
<rect x="156.680" y="96.11" width="3.737" height="3.89"/>
<rect x="160.217" y="96.71" width="3.737" height="3.29"/>
<rect x="163.754" y="97.21" width="3.737" height="2.79"/>
<rect x="167.291" y="97.51" width="3.737" height="2.49"/>
<rect x="170.828" y="97.91" width="3.737" height="2.09"/>
<rect x="174.365" y="98.49" width="3.737" height="1.51"/>
<rect x="177.902" y="98.49" width="3.737" height="1.51"/>
<rect x="181.439" y="98.24" width="3.737" height="1.76"/>
<rect x="184.976" y="96.51" width="3.737" height="3.49"/>
<rect x="188.513" y="97.01" width="3.537" height="2.99"/>
</g>
<text class="t" x="10.18" y="19.6" letter-spacing="0.035">Norway</text>
<text class="n" x="9.9" y="36.7" letter-spacing="0.06">47,240</text>
</g>
<g transform="translate(658,250)">
<rect class="bg" width="194" height="100"/>
<rect class="g" x="3" y="0" width="1" height="100"/>
<rect class="g" x="45" y="0" width="1" height="100"/>
<rect class="g" x="87" y="0" width="1" height="100"/>
<rect class="g" x="130" y="0" width="1" height="100"/>
<rect class="g" x="172" y="0" width="1" height="100"/>
<g class="b">
<rect x="1.050" y="98.22" width="3.737" height="1.78"/>
<rect x="4.587" y="97.49" width="3.737" height="2.51"/>
<rect x="8.124" y="97.49" width="3.737" height="2.51"/>
<rect x="11.661" y="98.22" width="3.737" height="1.78"/>
<rect x="15.198" y="98.22" width="3.737" height="1.78"/>
<rect x="18.735" y="97.89" width="3.737" height="2.11"/>
<rect x="22.272" y="97.49" width="3.737" height="2.51"/>
<rect x="25.809" y="97.69" width="3.737" height="2.31"/>
<rect x="29.346" y="97.89" width="3.737" height="2.11"/>
<rect x="32.883" y="97.69" width="3.737" height="2.31"/>
<rect x="36.420" y="97.49" width="3.737" height="2.51"/>
<rect x="39.957" y="97.69" width="3.737" height="2.31"/>
<rect x="43.494" y="98.22" width="3.737" height="1.78"/>
<rect x="47.031" y="98.47" width="3.737" height="1.53"/>
<rect x="50.569" y="98.09" width="3.737" height="1.91"/>
<rect x="54.106" y="97.89" width="3.737" height="2.11"/>
<rect x="57.643" y="97.69" width="3.737" height="2.31"/>
<rect x="61.180" y="97.89" width="3.737" height="2.11"/>
<rect x="64.717" y="98.09" width="3.737" height="1.91"/>
<rect x="68.254" y="97.89" width="3.737" height="2.11"/>
<rect x="71.791" y="97.69" width="3.737" height="2.31"/>
<rect x="75.328" y="96.49" width="3.737" height="3.51"/>
<rect x="78.865" y="97.29" width="3.737" height="2.71"/>
<rect x="82.402" y="97.69" width="3.737" height="2.31"/>
<rect x="85.939" y="97.89" width="3.737" height="2.11"/>
<rect x="89.476" y="98.09" width="3.737" height="1.91"/>
<rect x="93.013" y="98.09" width="3.737" height="1.91"/>
<rect x="96.550" y="97.89" width="3.737" height="2.11"/>
<rect x="100.087" y="98.09" width="3.737" height="1.91"/>
<rect x="103.624" y="98.09" width="3.737" height="1.91"/>
<rect x="107.161" y="97.89" width="3.737" height="2.11"/>
<rect x="110.698" y="97.89" width="3.737" height="2.11"/>
<rect x="114.235" y="97.69" width="3.737" height="2.31"/>
<rect x="117.772" y="97.49" width="3.737" height="2.51"/>
<rect x="121.309" y="97.69" width="3.737" height="2.31"/>
<rect x="124.846" y="97.69" width="3.737" height="2.31"/>
<rect x="128.383" y="97.49" width="3.737" height="2.51"/>
<rect x="131.920" y="97.49" width="3.737" height="2.51"/>
<rect x="135.457" y="97.49" width="3.737" height="2.51"/>
<rect x="138.994" y="97.49" width="3.737" height="2.51"/>
<rect x="142.531" y="97.49" width="3.737" height="2.51"/>
<rect x="146.069" y="97.69" width="3.737" height="2.31"/>
<rect x="149.606" y="97.69" width="3.737" height="2.31"/>
<rect x="153.143" y="98.09" width="3.737" height="1.91"/>
<rect x="156.680" y="97.89" width="3.737" height="2.11"/>
<rect x="160.217" y="97.69" width="3.737" height="2.31"/>
<rect x="163.754" y="97.69" width="3.737" height="2.31"/>
<rect x="167.291" y="97.19" width="3.737" height="2.81"/>
<rect x="170.828" y="97.19" width="3.737" height="2.81"/>
<rect x="174.365" y="97.29" width="3.737" height="2.71"/>
<rect x="177.902" y="97.29" width="3.737" height="2.71"/>
<rect x="181.439" y="97.19" width="3.737" height="2.81"/>
<rect x="184.976" y="96.79" width="3.737" height="3.21"/>
<rect x="188.513" y="96.99" width="3.537" height="3.01"/>
</g>
<text class="t" x="9.65" y="19.6" letter-spacing="-0.14">Greece</text>
<text class="n" x="9.9" y="36.7" letter-spacing="0.06">42,800</text>
</g>
<g transform="translate(872,250)">
<rect class="bg" width="194" height="100"/>
<rect class="g" x="3" y="0" width="1" height="100"/>
<rect class="g" x="45" y="0" width="1" height="100"/>
<rect class="g" x="87" y="0" width="1" height="100"/>
<rect class="g" x="130" y="0" width="1" height="100"/>
<rect class="g" x="172" y="0" width="1" height="100"/>
<g class="b">
<rect x="1.050" y="99.61" width="3.737" height="0.39"/>
<rect x="4.587" y="99.35" width="3.737" height="0.65"/>
<rect x="8.124" y="99.35" width="3.737" height="0.65"/>
<rect x="11.661" y="99.35" width="3.737" height="0.65"/>
<rect x="15.198" y="99.21" width="3.737" height="0.79"/>
<rect x="18.735" y="98.82" width="3.737" height="1.18"/>
<rect x="22.272" y="99.08" width="3.737" height="0.92"/>
<rect x="25.809" y="98.17" width="3.737" height="1.83"/>
<rect x="29.346" y="98.43" width="3.737" height="1.57"/>
<rect x="32.883" y="98.04" width="3.737" height="1.96"/>
<rect x="36.420" y="98.04" width="3.737" height="1.96"/>
<rect x="39.957" y="98.43" width="3.737" height="1.57"/>
<rect x="43.494" y="99.08" width="3.737" height="0.92"/>
<rect x="47.031" y="99.08" width="3.737" height="0.92"/>
<rect x="50.569" y="98.43" width="3.737" height="1.57"/>
<rect x="54.106" y="98.43" width="3.737" height="1.57"/>
<rect x="57.643" y="98.43" width="3.737" height="1.57"/>
<rect x="61.180" y="98.43" width="3.737" height="1.57"/>
<rect x="64.717" y="97.84" width="3.737" height="2.16"/>
<rect x="68.254" y="97.44" width="3.737" height="2.56"/>
<rect x="71.791" y="96.34" width="3.737" height="3.66"/>
<rect x="75.328" y="96.44" width="3.737" height="3.56"/>
<rect x="78.865" y="97.44" width="3.737" height="2.56"/>
<rect x="82.402" y="97.44" width="3.737" height="2.56"/>
<rect x="85.939" y="98.43" width="3.737" height="1.57"/>
<rect x="89.476" y="98.43" width="3.737" height="1.57"/>
<rect x="93.013" y="96.34" width="3.737" height="3.66"/>
<rect x="96.550" y="94.54" width="3.737" height="5.46"/>
<rect x="100.087" y="92.14" width="3.737" height="7.86"/>
<rect x="103.624" y="93.24" width="3.737" height="6.76"/>
<rect x="107.161" y="96.04" width="3.737" height="3.96"/>
<rect x="110.698" y="97.44" width="3.737" height="2.56"/>
<rect x="114.235" y="98.17" width="3.737" height="1.83"/>
<rect x="117.772" y="98.69" width="3.737" height="1.31"/>
<rect x="121.309" y="99.21" width="3.737" height="0.79"/>
<rect x="124.846" y="99.21" width="3.737" height="0.79"/>
<rect x="128.383" y="98.17" width="3.737" height="1.83"/>
<rect x="131.920" y="98.69" width="3.737" height="1.31"/>
<rect x="135.457" y="98.17" width="3.737" height="1.83"/>
<rect x="138.994" y="98.04" width="3.737" height="1.96"/>
<rect x="142.531" y="98.82" width="3.737" height="1.18"/>
<rect x="146.069" y="98.69" width="3.737" height="1.31"/>
<rect x="149.606" y="98.43" width="3.737" height="1.57"/>
<rect x="153.143" y="98.17" width="3.737" height="1.83"/>
<rect x="156.680" y="98.04" width="3.737" height="1.96"/>
<rect x="160.217" y="98.43" width="3.737" height="1.57"/>
<rect x="163.754" y="98.56" width="3.737" height="1.44"/>
<rect x="167.291" y="98.43" width="3.737" height="1.57"/>
<rect x="170.828" y="98.43" width="3.737" height="1.57"/>
<rect x="174.365" y="98.69" width="3.737" height="1.31"/>
<rect x="177.902" y="98.56" width="3.737" height="1.44"/>
<rect x="181.439" y="98.43" width="3.737" height="1.57"/>
<rect x="184.976" y="98.17" width="3.737" height="1.83"/>
<rect x="188.513" y="98.04" width="3.537" height="1.96"/>
</g>
<text class="t" x="10.18" y="19.6" letter-spacing="0.2">Poland</text>
<text class="n" x="9.65" y="36.7" letter-spacing="0.135">38,418</text>
</g>
<g transform="translate(16,370)">
<rect class="bg" width="194" height="100"/>
<rect class="g" x="3" y="0" width="1" height="100"/>
<rect class="g" x="45" y="0" width="1" height="100"/>
<rect class="g" x="87" y="0" width="1" height="100"/>
<rect class="g" x="130" y="0" width="1" height="100"/>
<rect class="g" x="172" y="0" width="1" height="100"/>
<g class="b">
<rect x="1.050" y="99.24" width="3.737" height="0.76"/>
<rect x="4.587" y="99.24" width="3.737" height="0.76"/>
<rect x="8.124" y="99.24" width="3.737" height="0.76"/>
<rect x="11.661" y="99.24" width="3.737" height="0.76"/>
<rect x="15.198" y="99.24" width="3.737" height="0.76"/>
<rect x="18.735" y="99.24" width="3.737" height="0.76"/>
<rect x="22.272" y="99.24" width="3.737" height="0.76"/>
<rect x="25.809" y="99.24" width="3.737" height="0.76"/>
<rect x="29.346" y="99.24" width="3.737" height="0.76"/>
<rect x="32.883" y="98.59" width="3.737" height="1.41"/>
<rect x="36.420" y="98.95" width="3.737" height="1.05"/>
<rect x="39.957" y="98.59" width="3.737" height="1.41"/>
<rect x="43.494" y="98.59" width="3.737" height="1.41"/>
<rect x="47.031" y="99.18" width="3.737" height="0.82"/>
<rect x="50.569" y="98.83" width="3.737" height="1.17"/>
<rect x="54.106" y="98.83" width="3.737" height="1.17"/>
<rect x="57.643" y="98.59" width="3.737" height="1.41"/>
<rect x="61.180" y="98.24" width="3.737" height="1.76"/>
<rect x="64.717" y="98.24" width="3.737" height="1.76"/>
<rect x="68.254" y="98.36" width="3.737" height="1.64"/>
<rect x="71.791" y="98.59" width="3.737" height="1.41"/>
<rect x="75.328" y="98.36" width="3.737" height="1.64"/>
<rect x="78.865" y="98.24" width="3.737" height="1.76"/>
<rect x="82.402" y="98.24" width="3.737" height="1.76"/>
<rect x="85.939" y="97.84" width="3.737" height="2.16"/>
<rect x="89.476" y="98.36" width="3.737" height="1.64"/>
<rect x="93.013" y="98.36" width="3.737" height="1.64"/>
<rect x="96.550" y="98.36" width="3.737" height="1.64"/>
<rect x="100.087" y="98.59" width="3.737" height="1.41"/>
<rect x="103.624" y="98.59" width="3.737" height="1.41"/>
<rect x="107.161" y="98.36" width="3.737" height="1.64"/>
<rect x="110.698" y="98.24" width="3.737" height="1.76"/>
<rect x="114.235" y="98.04" width="3.737" height="1.96"/>
<rect x="117.772" y="97.84" width="3.737" height="2.16"/>
<rect x="121.309" y="98.04" width="3.737" height="1.96"/>
<rect x="124.846" y="98.36" width="3.737" height="1.64"/>
<rect x="128.383" y="98.04" width="3.737" height="1.96"/>
<rect x="131.920" y="98.59" width="3.737" height="1.41"/>
<rect x="135.457" y="98.36" width="3.737" height="1.64"/>
<rect x="138.994" y="98.24" width="3.737" height="1.76"/>
<rect x="142.531" y="98.04" width="3.737" height="1.96"/>
<rect x="146.069" y="97.14" width="3.737" height="2.86"/>
<rect x="149.606" y="95.14" width="3.737" height="4.86"/>
<rect x="153.143" y="93.24" width="3.737" height="6.76"/>
<rect x="156.680" y="91.14" width="3.737" height="8.86"/>
<rect x="160.217" y="94.54" width="3.737" height="5.46"/>
<rect x="163.754" y="97.14" width="3.737" height="2.86"/>
<rect x="167.291" y="97.84" width="3.737" height="2.16"/>
<rect x="170.828" y="98.04" width="3.737" height="1.96"/>
<rect x="174.365" y="98.83" width="3.737" height="1.17"/>
<rect x="177.902" y="98.83" width="3.737" height="1.17"/>
<rect x="181.439" y="98.36" width="3.737" height="1.64"/>
<rect x="184.976" y="97.44" width="3.537" height="2.56"/>
</g>
<text class="t" x="10.18" y="19.6" letter-spacing="0.179">Denmark</text>
<text class="n" x="9.65" y="36.7" letter-spacing="0.135">35,302</text>
</g>
<g transform="translate(230,370)">
<rect class="bg" width="194" height="100"/>
<rect class="g" x="3" y="0" width="1" height="100"/>
<rect class="g" x="45" y="0" width="1" height="100"/>
<rect class="g" x="87" y="0" width="1" height="100"/>
<rect class="g" x="130" y="0" width="1" height="100"/>
<rect class="g" x="172" y="0" width="1" height="100"/>
<g class="b">
<rect x="1.050" y="99.73" width="3.737" height="0.27"/>
<rect x="4.587" y="99.73" width="3.737" height="0.27"/>
<rect x="8.124" y="99.73" width="3.737" height="0.27"/>
<rect x="11.661" y="99.73" width="3.737" height="0.27"/>
<rect x="15.198" y="99.73" width="3.737" height="0.27"/>
<rect x="18.735" y="99.73" width="3.737" height="0.27"/>
<rect x="22.272" y="99.73" width="3.737" height="0.27"/>
<rect x="25.809" y="99.73" width="3.737" height="0.27"/>
<rect x="29.346" y="99.73" width="3.737" height="0.27"/>
<rect x="32.883" y="99.73" width="3.737" height="0.27"/>
<rect x="36.420" y="99.73" width="3.537" height="0.27"/>
<rect x="43.494" y="99.73" width="3.737" height="0.27"/>
<rect x="47.031" y="99.73" width="3.737" height="0.27"/>
<rect x="50.569" y="99.73" width="3.537" height="0.27"/>
<rect x="57.643" y="99.73" width="3.737" height="0.27"/>
<rect x="61.180" y="99.73" width="3.737" height="0.27"/>
<rect x="64.717" y="99.73" width="3.737" height="0.27"/>
<rect x="68.254" y="99.73" width="3.737" height="0.27"/>
<rect x="71.791" y="99.73" width="3.737" height="0.27"/>
<rect x="75.328" y="99.45" width="3.737" height="0.55"/>
<rect x="78.865" y="99.45" width="3.737" height="0.55"/>
<rect x="82.402" y="99.45" width="3.737" height="0.55"/>
<rect x="85.939" y="99.45" width="3.737" height="0.55"/>
<rect x="89.476" y="99.23" width="3.737" height="0.77"/>
<rect x="93.013" y="98.91" width="3.737" height="1.09"/>
<rect x="96.550" y="99.18" width="3.737" height="0.82"/>
<rect x="100.087" y="99.23" width="3.737" height="0.77"/>
<rect x="103.624" y="99.02" width="3.737" height="0.98"/>
<rect x="107.161" y="98.69" width="3.737" height="1.31"/>
<rect x="110.698" y="98.16" width="3.737" height="1.84"/>
<rect x="114.235" y="97.26" width="3.737" height="2.74"/>
<rect x="117.772" y="96.66" width="3.737" height="3.34"/>
<rect x="121.309" y="96.36" width="3.737" height="3.64"/>
<rect x="124.846" y="97.96" width="3.737" height="2.04"/>
<rect x="128.383" y="97.76" width="3.737" height="2.24"/>
<rect x="131.920" y="97.76" width="3.737" height="2.24"/>
<rect x="135.457" y="98.69" width="3.737" height="1.31"/>
<rect x="138.994" y="99.23" width="3.737" height="0.77"/>
<rect x="142.531" y="98.47" width="3.737" height="1.53"/>
<rect x="146.069" y="98.16" width="3.737" height="1.84"/>
<rect x="149.606" y="97.56" width="3.737" height="2.44"/>
<rect x="153.143" y="96.76" width="3.737" height="3.24"/>
<rect x="156.680" y="96.66" width="3.737" height="3.34"/>
<rect x="160.217" y="96.36" width="3.737" height="3.64"/>
<rect x="163.754" y="96.36" width="3.737" height="3.64"/>
<rect x="167.291" y="96.06" width="3.737" height="3.94"/>
<rect x="170.828" y="97.06" width="3.737" height="2.94"/>
<rect x="174.365" y="97.46" width="3.737" height="2.54"/>
<rect x="177.902" y="97.26" width="3.737" height="2.74"/>
<rect x="181.439" y="97.06" width="3.737" height="2.94"/>
<rect x="184.976" y="96.56" width="3.737" height="3.44"/>
<rect x="188.513" y="95.46" width="3.537" height="4.54"/>
</g>
<text class="t" x="10.18" y="19.6" letter-spacing="0.107">Bulgaria</text>
<text class="n" x="10.42" y="36.7" letter-spacing="0.07">27,124</text>
</g>
<g transform="translate(444,370)">
<rect class="bg" width="194" height="100"/>
<rect class="g" x="3" y="0" width="1" height="100"/>
<rect class="g" x="45" y="0" width="1" height="100"/>
<rect class="g" x="87" y="0" width="1" height="100"/>
<rect class="g" x="130" y="0" width="1" height="100"/>
<rect class="g" x="172" y="0" width="1" height="100"/>
<g class="b">
<rect x="1.050" y="99.35" width="3.737" height="0.65"/>
<rect x="4.587" y="99.02" width="3.737" height="0.98"/>
<rect x="8.124" y="99.02" width="3.737" height="0.98"/>
<rect x="11.661" y="98.70" width="3.737" height="1.30"/>
<rect x="15.198" y="99.02" width="3.737" height="0.98"/>
<rect x="18.735" y="99.46" width="3.737" height="0.54"/>
<rect x="22.272" y="99.46" width="3.737" height="0.54"/>
<rect x="25.809" y="99.46" width="3.737" height="0.54"/>
<rect x="29.346" y="99.13" width="3.737" height="0.87"/>
<rect x="32.883" y="99.13" width="3.737" height="0.87"/>
<rect x="36.420" y="99.46" width="3.737" height="0.54"/>
<rect x="39.957" y="99.46" width="3.737" height="0.54"/>
<rect x="43.494" y="99.35" width="3.737" height="0.65"/>
<rect x="47.031" y="99.35" width="3.737" height="0.65"/>
<rect x="50.569" y="99.46" width="3.737" height="0.54"/>
<rect x="54.106" y="99.46" width="3.737" height="0.54"/>
<rect x="57.643" y="99.46" width="3.737" height="0.54"/>
<rect x="61.180" y="99.35" width="3.737" height="0.65"/>
<rect x="64.717" y="99.24" width="3.737" height="0.76"/>
<rect x="68.254" y="99.46" width="3.737" height="0.54"/>
<rect x="71.791" y="99.46" width="3.737" height="0.54"/>
<rect x="75.328" y="99.46" width="3.737" height="0.54"/>
<rect x="78.865" y="99.35" width="3.737" height="0.65"/>
<rect x="82.402" y="99.35" width="3.737" height="0.65"/>
<rect x="85.939" y="99.35" width="3.737" height="0.65"/>
<rect x="89.476" y="99.02" width="3.737" height="0.98"/>
<rect x="93.013" y="99.02" width="3.737" height="0.98"/>
<rect x="96.550" y="99.02" width="3.737" height="0.98"/>
<rect x="100.087" y="99.02" width="3.737" height="0.98"/>
<rect x="103.624" y="99.02" width="3.737" height="0.98"/>
<rect x="107.161" y="99.02" width="3.737" height="0.98"/>
<rect x="110.698" y="99.24" width="3.737" height="0.76"/>
<rect x="114.235" y="99.24" width="3.737" height="0.76"/>
<rect x="117.772" y="99.24" width="3.737" height="0.76"/>
<rect x="121.309" y="99.24" width="3.737" height="0.76"/>
<rect x="124.846" y="99.24" width="3.737" height="0.76"/>
<rect x="128.383" y="99.24" width="3.737" height="0.76"/>
<rect x="131.920" y="99.02" width="3.737" height="0.98"/>
<rect x="135.457" y="98.70" width="3.737" height="1.30"/>
<rect x="138.994" y="99.02" width="3.737" height="0.98"/>
<rect x="142.531" y="99.02" width="3.737" height="0.98"/>
<rect x="146.069" y="98.70" width="3.737" height="1.30"/>
<rect x="149.606" y="98.48" width="3.737" height="1.52"/>
<rect x="153.143" y="98.48" width="3.737" height="1.52"/>
<rect x="156.680" y="98.48" width="3.737" height="1.52"/>
<rect x="160.217" y="97.27" width="3.737" height="2.73"/>
<rect x="163.754" y="97.77" width="3.737" height="2.23"/>
<rect x="167.291" y="97.97" width="3.737" height="2.03"/>
<rect x="170.828" y="97.77" width="3.737" height="2.23"/>
<rect x="174.365" y="97.97" width="3.737" height="2.03"/>
<rect x="177.902" y="97.27" width="3.737" height="2.73"/>
<rect x="181.439" y="97.27" width="3.737" height="2.73"/>
<rect x="184.976" y="97.57" width="3.737" height="2.43"/>
<rect x="188.513" y="97.97" width="3.537" height="2.03"/>
</g>
<text class="t" x="9.78" y="19.6" letter-spacing="-0.044">Spain</text>
<text class="n" x="10.42" y="36.7" letter-spacing="0.2">21,112</text>
</g>
<g transform="translate(658,370)">
<rect class="bg" width="194" height="100"/>
<rect class="g" x="3" y="0" width="1" height="100"/>
<rect class="g" x="45" y="0" width="1" height="100"/>
<rect class="g" x="87" y="0" width="1" height="100"/>
<rect class="g" x="130" y="0" width="1" height="100"/>
<rect class="g" x="172" y="0" width="1" height="100"/>
<g class="b">
<rect x="1.050" y="99.47" width="3.737" height="0.53"/>
<rect x="4.587" y="99.36" width="3.737" height="0.64"/>
<rect x="8.124" y="99.36" width="3.737" height="0.64"/>
<rect x="11.661" y="99.47" width="3.737" height="0.53"/>
<rect x="15.198" y="99.47" width="3.737" height="0.53"/>
<rect x="18.735" y="99.47" width="3.737" height="0.53"/>
<rect x="22.272" y="99.47" width="3.737" height="0.53"/>
<rect x="25.809" y="99.47" width="3.737" height="0.53"/>
<rect x="29.346" y="99.04" width="3.737" height="0.96"/>
<rect x="32.883" y="99.04" width="3.737" height="0.96"/>
<rect x="36.420" y="99.04" width="3.737" height="0.96"/>
<rect x="39.957" y="99.04" width="3.737" height="0.96"/>
<rect x="43.494" y="99.36" width="3.737" height="0.64"/>
<rect x="47.031" y="99.47" width="3.737" height="0.53"/>
<rect x="50.569" y="99.47" width="3.737" height="0.53"/>
<rect x="54.106" y="99.47" width="3.737" height="0.53"/>
<rect x="57.643" y="99.47" width="3.737" height="0.53"/>
<rect x="61.180" y="99.47" width="3.737" height="0.53"/>
<rect x="64.717" y="99.36" width="3.737" height="0.64"/>
<rect x="68.254" y="99.15" width="3.737" height="0.85"/>
<rect x="71.791" y="99.04" width="3.737" height="0.96"/>
<rect x="75.328" y="99.04" width="3.737" height="0.96"/>
<rect x="78.865" y="99.26" width="3.737" height="0.74"/>
<rect x="82.402" y="99.26" width="3.737" height="0.74"/>
<rect x="85.939" y="99.36" width="3.737" height="0.64"/>
<rect x="89.476" y="99.36" width="3.737" height="0.64"/>
<rect x="93.013" y="99.47" width="3.737" height="0.53"/>
<rect x="96.550" y="99.47" width="3.737" height="0.53"/>
<rect x="100.087" y="99.47" width="3.737" height="0.53"/>
<rect x="103.624" y="99.47" width="3.737" height="0.53"/>
<rect x="107.161" y="99.36" width="3.737" height="0.64"/>
<rect x="110.698" y="99.15" width="3.737" height="0.85"/>
<rect x="114.235" y="99.15" width="3.737" height="0.85"/>
<rect x="117.772" y="99.36" width="3.737" height="0.64"/>
<rect x="121.309" y="99.36" width="3.737" height="0.64"/>
<rect x="124.846" y="99.36" width="3.737" height="0.64"/>
<rect x="128.383" y="99.36" width="3.737" height="0.64"/>
<rect x="131.920" y="99.36" width="3.737" height="0.64"/>
<rect x="135.457" y="99.36" width="3.737" height="0.64"/>
<rect x="138.994" y="99.36" width="3.737" height="0.64"/>
<rect x="142.531" y="99.36" width="3.737" height="0.64"/>
<rect x="146.069" y="99.36" width="3.737" height="0.64"/>
<rect x="149.606" y="99.36" width="3.737" height="0.64"/>
<rect x="153.143" y="99.15" width="3.737" height="0.85"/>
<rect x="156.680" y="98.83" width="3.737" height="1.17"/>
<rect x="160.217" y="98.72" width="3.737" height="1.28"/>
<rect x="163.754" y="98.94" width="3.737" height="1.06"/>
<rect x="167.291" y="98.83" width="3.737" height="1.17"/>
<rect x="170.828" y="99.15" width="3.737" height="0.85"/>
<rect x="174.365" y="99.15" width="3.737" height="0.85"/>
<rect x="177.902" y="99.15" width="3.737" height="0.85"/>
<rect x="181.439" y="99.04" width="3.737" height="0.96"/>
<rect x="184.976" y="98.41" width="3.537" height="1.59"/>
</g>
<text class="t" x="10.18" y="19.6" letter-spacing="0.208">Finland</text>
<text class="n" x="10.05" y="36.7" letter-spacing="0.035">14,361</text>
</g>
<g transform="translate(872,370)">
<rect class="bg" width="194" height="100"/>
<rect class="g" x="3" y="0" width="1" height="100"/>
<rect class="g" x="45" y="0" width="1" height="100"/>
<rect class="g" x="87" y="0" width="1" height="100"/>
<rect class="g" x="130" y="0" width="1" height="100"/>
<rect class="g" x="172" y="0" width="1" height="100"/>
<g class="b">
<rect x="18.735" y="99.78" width="3.537" height="0.22"/>
<rect x="50.569" y="99.67" width="3.737" height="0.33"/>
<rect x="54.106" y="99.67" width="3.737" height="0.33"/>
<rect x="57.643" y="99.67" width="3.737" height="0.33"/>
<rect x="61.180" y="99.67" width="3.737" height="0.33"/>
<rect x="64.717" y="99.67" width="3.737" height="0.33"/>
<rect x="68.254" y="99.55" width="3.737" height="0.45"/>
<rect x="71.791" y="99.44" width="3.737" height="0.56"/>
<rect x="75.328" y="99.22" width="3.737" height="0.78"/>
<rect x="78.865" y="99.33" width="3.737" height="0.67"/>
<rect x="82.402" y="99.67" width="3.737" height="0.33"/>
<rect x="85.939" y="99.67" width="3.737" height="0.33"/>
<rect x="89.476" y="99.67" width="3.737" height="0.33"/>
<rect x="93.013" y="99.67" width="3.737" height="0.33"/>
<rect x="96.550" y="99.55" width="3.737" height="0.45"/>
<rect x="100.087" y="99.55" width="3.737" height="0.45"/>
<rect x="103.624" y="99.55" width="3.737" height="0.45"/>
<rect x="107.161" y="98.66" width="3.737" height="1.34"/>
<rect x="110.698" y="98.55" width="3.737" height="1.45"/>
<rect x="114.235" y="98.66" width="3.737" height="1.34"/>
<rect x="117.772" y="99.11" width="3.737" height="0.89"/>
<rect x="121.309" y="99.55" width="3.737" height="0.45"/>
<rect x="124.846" y="99.55" width="3.737" height="0.45"/>
<rect x="128.383" y="99.55" width="3.737" height="0.45"/>
<rect x="131.920" y="99.89" width="3.737" height="0.11"/>
<rect x="135.457" y="99.89" width="3.737" height="0.11"/>
<rect x="138.994" y="99.89" width="3.737" height="0.11"/>
<rect x="142.531" y="99.89" width="3.737" height="0.11"/>
<rect x="146.069" y="99.67" width="3.737" height="0.33"/>
<rect x="149.606" y="99.67" width="3.737" height="0.33"/>
<rect x="153.143" y="99.67" width="3.737" height="0.33"/>
<rect x="156.680" y="99.67" width="3.737" height="0.33"/>
<rect x="160.217" y="98.23" width="3.737" height="1.77"/>
<rect x="163.754" y="98.89" width="3.737" height="1.11"/>
<rect x="167.291" y="99.33" width="3.737" height="0.67"/>
<rect x="170.828" y="99.44" width="3.737" height="0.56"/>
<rect x="174.365" y="99.44" width="3.737" height="0.56"/>
<rect x="177.902" y="99.44" width="3.737" height="0.56"/>
<rect x="181.439" y="99.44" width="3.737" height="0.56"/>
<rect x="184.976" y="99.44" width="3.737" height="0.56"/>
<rect x="188.513" y="99.55" width="3.537" height="0.45"/>
</g>
<text class="t" x="10.18" y="19.6" letter-spacing="0.108">Montenegro</text>
<text class="n" x="9.52" y="36.7" letter-spacing="0.169">9,158</text>
</g>
</svg>
</body></html>
